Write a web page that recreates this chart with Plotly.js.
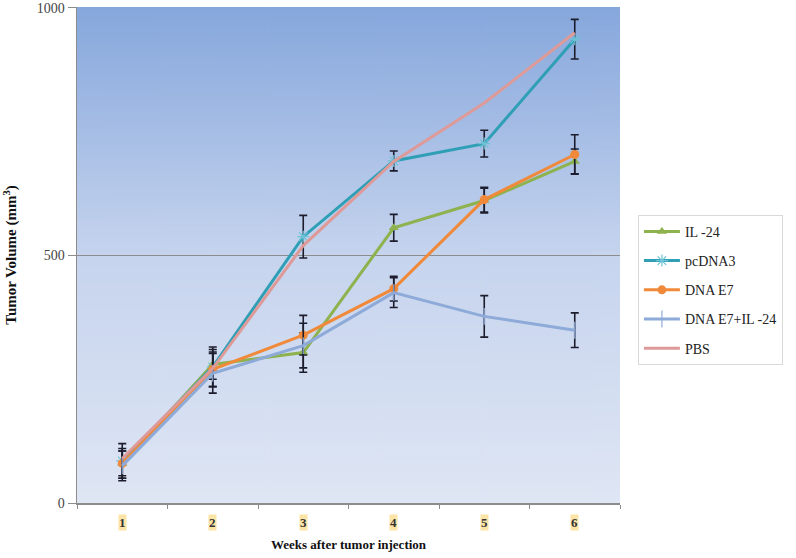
<!DOCTYPE html>
<html>
<head>
<meta charset="utf-8">
<script src="https://cdn.plot.ly/plotly-3.0.1.min.js"></script>
<style>html,body{margin:0;padding:0;background:#fff;}#chart{width:796px;height:558px;}</style>
</head>
<body>
<div id="chart"></div>
<script>
const weeks = ['1', '2', '3', '4', '5', '6'];

const il24 = [80, 280, 304, 556, 611, 690];
const il24Err = [25, 30, 40, 27, 25, 25];

const pcdna3 = [85, 275, 538, 691, 726, 937];
const pcdna3Err = [35, 40, 43, 20, 27, 40];

const dnaE7 = [80, 270, 339, 433, 613, 704];
const dnaE7Err = [30, 35, 40, 25, 25, 40];

const e7il24 = [75, 262, 318, 425, 377, 349];
const e7il24Err = [30, 40, 45, 30, 42, 35];

const pbs = [90, 272, 520, 690, 808, 950];

const seriesNames = ['IL -24', 'pcDNA3', 'DNA E7', 'DNA E7+IL -24', 'PBS'];

function gradientURL() {
  const c = document.createElement('canvas');
  c.width = 10; c.height = 400;
  const g = c.getContext('2d');
  const gr = g.createLinearGradient(0, 0, 0, 400);
  gr.addColorStop(0, '#86a7dc');
  gr.addColorStop(0.5, '#c6d4ee');
  gr.addColorStop(1, '#dfe6f4');
  g.fillStyle = gr;
  g.fillRect(0, 0, 10, 400);
  return c.toDataURL('image/png');
}

const errStyle = (arr) => ({type: 'data', array: arr, visible: true, color: '#1c1c2c', thickness: 1.6, width: 4});

const traces = [
  {x: weeks, y: il24, name: seriesNames[0], legendgroup: 'a', mode: 'lines+markers',
   line: {color: '#8db24e', width: 3}, marker: {symbol: 'triangle-up', size: 9, color: '#8db24e'},
   error_y: errStyle(il24Err)},
  {x: weeks, y: pcdna3, name: seriesNames[1], legendgroup: 'b', mode: 'lines+markers',
   line: {color: '#2f9fb6', width: 3}, marker: {symbol: 'asterisk-open', size: 10, color: '#6cc3d6', line: {width: 1.2, color: '#6cc3d6'}},
   error_y: errStyle(pcdna3Err)},
  {x: weeks, y: dnaE7, name: seriesNames[2], legendgroup: 'c', mode: 'lines+markers',
   line: {color: '#f08a3a', width: 3}, marker: {symbol: 'circle', size: 9, color: '#f08a3a'},
   error_y: errStyle(dnaE7Err)},
  {x: weeks, y: e7il24, name: seriesNames[3], legendgroup: 'd', mode: 'lines+markers',
   line: {color: '#8eaad8', width: 3}, marker: {symbol: 'line-ns-open', size: 12, color: '#8eaad8', line: {width: 1.2, color: '#8eaad8'}},
   error_y: errStyle(e7il24Err)},
  {x: weeks, y: pbs, name: seriesNames[4], legendgroup: 'e', mode: 'lines',
   line: {color: '#dd9a98', width: 3}}
];

const annotations = weeks.map((w, i) => ({
  x: i, y: -0.022, xref: 'x', yref: 'paper', yanchor: 'top', showarrow: false,
  text: '<b>' + w + '</b>', bgcolor: '#fbe4a6', borderpad: 0,
  font: {family: 'Liberation Serif, DejaVu Serif, serif', size: 13, color: '#333'}
}));

const layout = {
  width: 796, height: 558,
  margin: {l: 77, r: 176, t: 7, b: 55},
  paper_bgcolor: '#ffffff',
  plot_bgcolor: 'rgba(0,0,0,0)',
  showlegend: true,
  font: {family: 'Liberation Serif, DejaVu Serif, serif', color: '#333'},
  images: [{source: gradientURL(), xref: 'paper', yref: 'paper', x: 0, y: 1, sizex: 1, sizey: 1,
            sizing: 'stretch', layer: 'below', xanchor: 'left', yanchor: 'top'}],
  xaxis: {
    type: 'category', range: [-0.5, 5.5], tickson: 'boundaries', ticks: 'outside', ticklen: 4,
    tickcolor: '#8c8c8c', showticklabels: false, showgrid: false, showline: true, linecolor: '#8c8c8c', linewidth: 1.5,
    zeroline: false,
    title: {text: '<b>Weeks after tumor injection</b>', standoff: 36,
            font: {family: 'Liberation Serif, DejaVu Serif, serif', size: 13, color: '#111'}}
  },
  yaxis: {
    range: [0, 1002], tickvals: [0, 500, 1000], ticktext: ['0', '500', '1000'], ticks: 'outside', ticklen: 8, tickcolor: '#8c8c8c',
    showline: true, linecolor: '#8c8c8c', linewidth: 1.5, showgrid: true, gridcolor: '#8c8c8c', gridwidth: 1,
    zeroline: false,
    tickfont: {family: 'Liberation Serif, DejaVu Serif, serif', size: 14, color: '#444'},
    title: {text: '<b>Tumor Volume (mm<sup>3</sup>)</b>', standoff: 16,
            font: {family: 'Liberation Serif, DejaVu Serif, serif', size: 15, color: '#111'}}
  },
  legend: {
    x: 1.033, y: 0.581, xanchor: 'left', yanchor: 'top',
    bgcolor: '#ffffff', bordercolor: '#d9d9d9', borderwidth: 1,
    font: {family: 'Liberation Serif, DejaVu Serif, serif', size: 14, color: '#222'},
    itemwidth: 36, tracegroupgap: 8
  },
  annotations: annotations
};

Plotly.newPlot('chart', traces, layout, {displayModeBar: false, staticPlot: true});
</script>
</body>
</html>
